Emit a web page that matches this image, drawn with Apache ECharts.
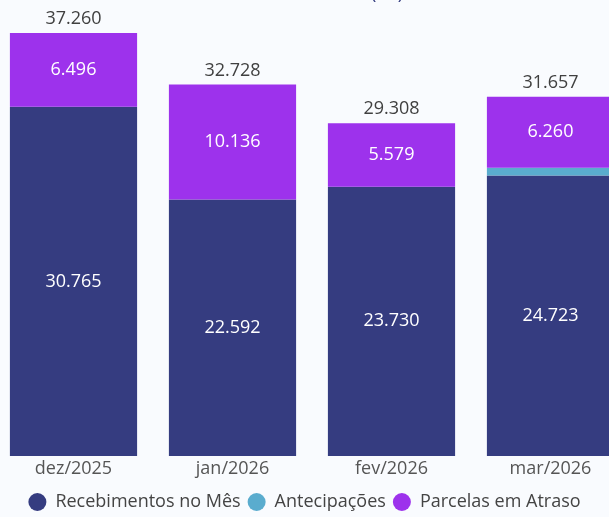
<!DOCTYPE html>
<html><head><meta charset="utf-8">
<script src="https://cdn.jsdelivr.net/npm/echarts@6/dist/echarts.min.js"></script>
<style>html,body{margin:0;padding:0;background:#f9fbfe;}#c{width:609px;height:517px;}</style>
</head><body><div id="c"></div>
<script>
const categories = ['dez/2025','jan/2026','fev/2026','mar/2026'];
const recebimentos = [30765, 22592, 23730, 24723];
const antecipacoes = [0, 0, 0, 674];
const atraso = [6496, 10136, 5579, 6260];
const totals = [37260, 32728, 29308, 31657];

const fmt = v => Math.round(v).toString().replace(/\B(?=(\d{3})+(?!\d))/g, '.');
const FONT = '"Open Sans", "Noto Sans", sans-serif';
const chart = echarts.init(document.getElementById('c'));
chart.setOption({
  backgroundColor: '#f9fbfe',
  animation: false,
  title: { text: 'Recebimentos (R$)', right: 201, top: -20,
    textStyle: { color: '#343d80', fontSize: 18, fontWeight: 'normal', fontFamily: FONT } },
  grid: { left: -6, width: 636, top: 2, bottom: 61, outerBoundsMode: 'none', containLabel: false },
  legend: {
    bottom: 1, left: 'center', icon: 'circle', itemWidth: 18, itemHeight: 18, itemGap: 7,
    data: ['Recebimentos no Mês','Antecipações','Parcelas em Atraso'],
    textStyle: { color: '#444', fontSize: 18, fontFamily: FONT, padding: [0,0,0,4] }
  },
  xAxis: { type: 'category', data: categories,
    axisLine: { show: false }, axisTick: { show: false },
    axisLabel: { color: '#555', fontSize: 18, fontFamily: FONT, margin: 4 } },
  yAxis: { type: 'value', min: 0, max: 40000, show: false, splitLine: { show: false } },
  series: [
    { name: 'Recebimentos no Mês', type: 'bar', stack: 't', data: recebimentos, barWidth: '80%',
      itemStyle: { color: '#353c80' },
      label: { show: true, position: 'inside', color: '#fff', fontSize: 18, fontFamily: FONT, formatter: p => fmt(p.value) } },
    { name: 'Antecipações', type: 'bar', stack: 't', data: antecipacoes,
      itemStyle: { color: '#5aacce' }, label: { show: false } },
    { name: 'Parcelas em Atraso', type: 'bar', stack: 't', data: atraso,
      itemStyle: { color: '#9d32ec' },
      label: { show: true, position: 'inside', color: '#fff', fontSize: 18, fontFamily: FONT, formatter: p => fmt(p.value) } },
    { name: 'Total', type: 'bar', stack: 't', data: totals.map(() => 0),
      itemStyle: { color: 'transparent' },
      label: { show: true, position: 'top', distance: 5, color: '#404040', fontSize: 18, fontFamily: FONT,
        formatter: p => fmt(totals[p.dataIndex]) } }
  ]
});
</script></body></html>
